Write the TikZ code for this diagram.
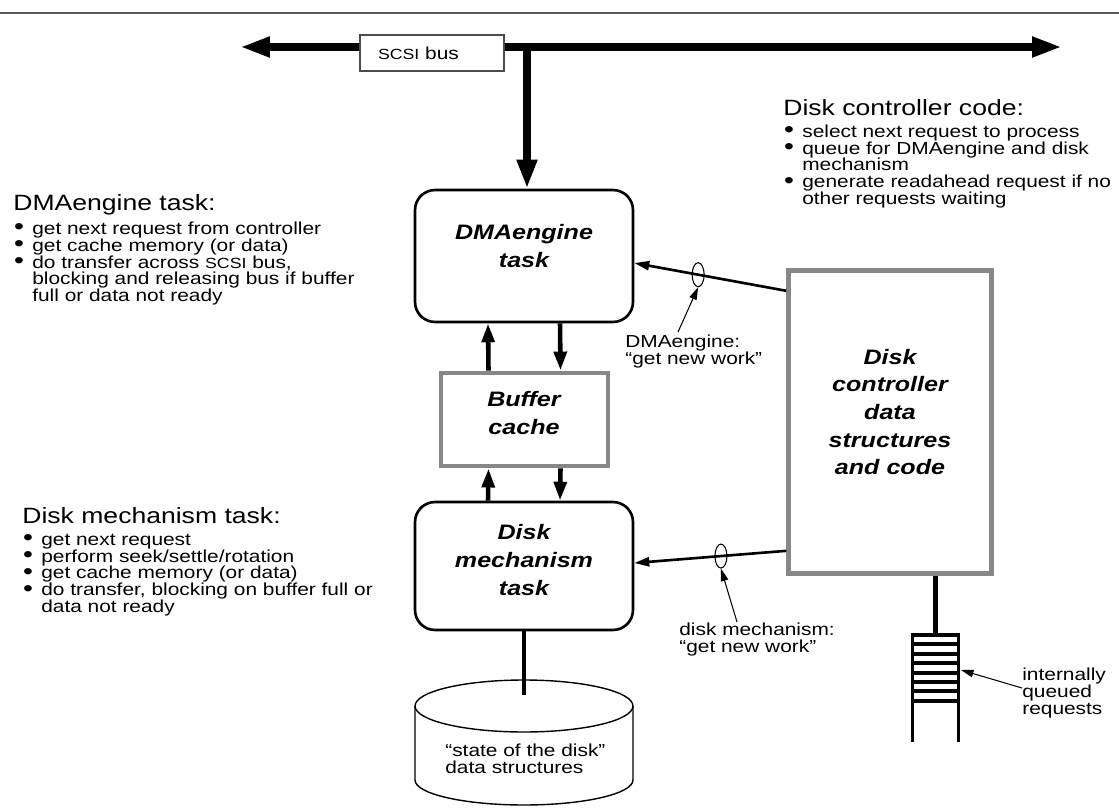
\documentclass[tikz,border=0pt]{standalone}
\usepackage{fontspec}
\setmainfont{Liberation Sans}[FakeStretch=1.2]
\usetikzlibrary{arrows.meta,positioning,calc,shapes.geometric}
\definecolor{boxgray}{gray}{0.53}
\newcommand{\bodyfont}{\fontsize{9.9pt}{9.6pt}\selectfont}
\newcommand{\headfont}{\fontsize{12.6pt}{12.6pt}\selectfont}
\newcommand{\taskfont}{\fontsize{11.9pt}{15.7pt}\selectfont\bfseries\itshape}
\newcommand{\scsi}{{\fontsize{8.4pt}{8.4pt}\selectfont SCSI}}
\newcommand{\itm}{\hspace*{0.5pt}\makebox[10.3pt][l]{\smash{\raisebox{-0.4pt}{\scalebox{1.35}{\textbullet}}}}}
\newcommand{\cnt}{\hspace*{10.8pt}}

\begin{document}
\begin{tikzpicture}[x=0.02cm, y=-0.02cm,
    every node/.style={inner sep=0pt},
    busline/.style={line width=5pt},
    bustip/.style={-{Triangle[length=0.58cm,width=0.38cm]}},
    taskbox/.style={draw, line width=1.5pt, rounded corners=0.4cm, minimum width=4.36cm},
    graybox/.style={draw=boxgray, line width=2.8pt},
    tasktext/.style={font=\taskfont, align=center},
    note/.style={font=\bodyfont, align=left, anchor=north west},
    flow/.style={line width=2.6pt, -{Triangle[length=0.38cm,width=0.25cm]}},
    reqline/.style={line width=1.5pt, -{Triangle[length=0.3cm,width=0.18cm]}},
    thinarrow/.style={line width=0.6pt, -{Triangle[length=0.25cm,width=0.15cm]}},
    ring/.style={draw, ellipse, line width=0.6pt, minimum width=0.24cm, minimum height=0.48cm}]
    \useasboundingbox (0,0) rectangle (1119,808);

    % top rule
    \draw[black!65, line width=1pt] (0,13) -- (1119,13);

    % SCSI bus
    \coordinate (busL) at (240,47);
    \coordinate (busR) at (1062,47);
    \coordinate (tap) at (527,47);
    \draw[busline, {Triangle[length=0.6cm,width=0.38cm]}-{Triangle[length=0.6cm,width=0.38cm]}] (busL) -- (busR);
    \node[draw=black!70, fill=white, line width=0.6pt, font=\bodyfont, text width=2.16cm, align=left,
          inner xsep=0.36cm, minimum height=0.72cm] (busbox) at (432,53) {\scsi\ bus};

    % tasks and boxes
    \node[taskbox, minimum height=2.64cm] (dma) at (524,256) {};
    \node[tasktext] (dmatxt) at (524,246) {DMAengine\\task};
    \node[graybox, minimum width=3.34cm, minimum height=1.86cm] (buf) at (524.5,419.5) {};
    \node[tasktext] (buftxt) at (524,413) {Buffer\\cache};
    \node[taskbox, minimum height=2.56cm] (dm) at (524,566) {};
    \node[tasktext] (dmtxt) at (524,560) {Disk\\mechanism\\task};
    \node[graybox, minimum width=4.05cm, minimum height=6.05cm] (ctrl) at (890,422) {};
    \node[tasktext] (ctrltxt) at (890,412) {Disk\\controller\\data\\structures\\and code};

    % bus to DMAengine
    \draw[busline, bustip] (tap) -- (tap |- dma.north);

    % buffer traffic
    \foreach \lo/\hi in {buf/dma, dm/buf} {
        \draw[flow] ($(\lo.north)+(-36,0)$) -- ($(\hi.south)+(-36,0)$);
        \draw[flow] ($(\hi.south)+(36,0)$) -- ($(\lo.north)+(36,0)$);
    }

    % requests from controller
    \draw[reqline] ($(ctrl.north west)+(0,22.5)$) -- node[ring, pos=0.58] (dmaring) {} ($(dma.east)+(0,7)$);
    \draw[reqline] ($(ctrl.north west)+(0,282.5)$) -- node[ring, pos=0.43] (dmring) {} ($(dm.east)+(0,-3)$);
    \node[note] (dmalbl) at (625,335) {DMAengine:\\“get new work”};
    \node[note] (dmlbl) at (679,623) {disk mechanism:\\“get new work”};
    \draw[thinarrow] ($(dmalbl.north west)+(53,-3)$) -- (dmaring.south);
    \draw[thinarrow] ($(dmlbl.north west)+(58,-1)$) -- (dmring.south);

    % state of the disk
    \draw[line width=0.8pt] (415,706) -- (415,780) arc[start angle=180, end angle=360, x radius=2.18cm, y radius=0.5cm] -- (633,706);
    \draw[line width=0.8pt] (524,706) ellipse [x radius=2.18cm, y radius=0.52cm];
    \coordinate (stateTop) at (524,695);
    \draw[line width=2.8pt] (dm.south) -- (stateTop);
    \node[note] (statelbl) at (445,744) {“state of the disk”\\data structures};

    % request queue
    \coordinate (qtop) at (935.5,633);
    \draw[line width=2.8pt] ($(ctrl.south)+(45.5,0)$) -- (qtop);
    \draw[line width=1.7pt] (912.5,633) -- (912.5,742) (958.5,633) -- (958.5,742);
    \foreach \i in {0,...,7} {
        \draw[line width=2.3pt] (911,{635+\i*9.4}) -- (960,{635+\i*9.4});
    }
    \coordinate (qhit) at (961,670);
    \node[note] (qlbl) at (1022,668) {internally\\queued\\requests};
    \draw[thinarrow] ($(qlbl.north west)+(0,20)$) -- (qhit);

    % descriptions
    \node[note] (ctrlnote) at (783,99) {{\headfont Disk controller code:}\\[2.8pt]
        \itm select next request to process\\
        \itm queue for DMAengine and disk\\
        \cnt mechanism\\
        \itm generate readahead request if no\\
        \cnt other requests waiting};
    \node[note] (dmanote) at (13,194) {{\headfont DMAengine task:}\\[2.8pt]
        \itm get next request from controller\\
        \itm get cache memory (or data)\\
        \itm do transfer across \scsi\ bus,\\
        \cnt blocking and releasing bus if buffer\\
        \cnt full or data not ready};
    \node[note] (dmnote) at (22,507) {{\headfont Disk mechanism task:}\\[2.8pt]
        \itm get next request\\
        \itm perform seek/settle/rotation\\
        \itm get cache memory (or data)\\
        \itm do transfer, blocking on buffer full or\\
        \cnt data not ready};
\end{tikzpicture}
\end{document}
